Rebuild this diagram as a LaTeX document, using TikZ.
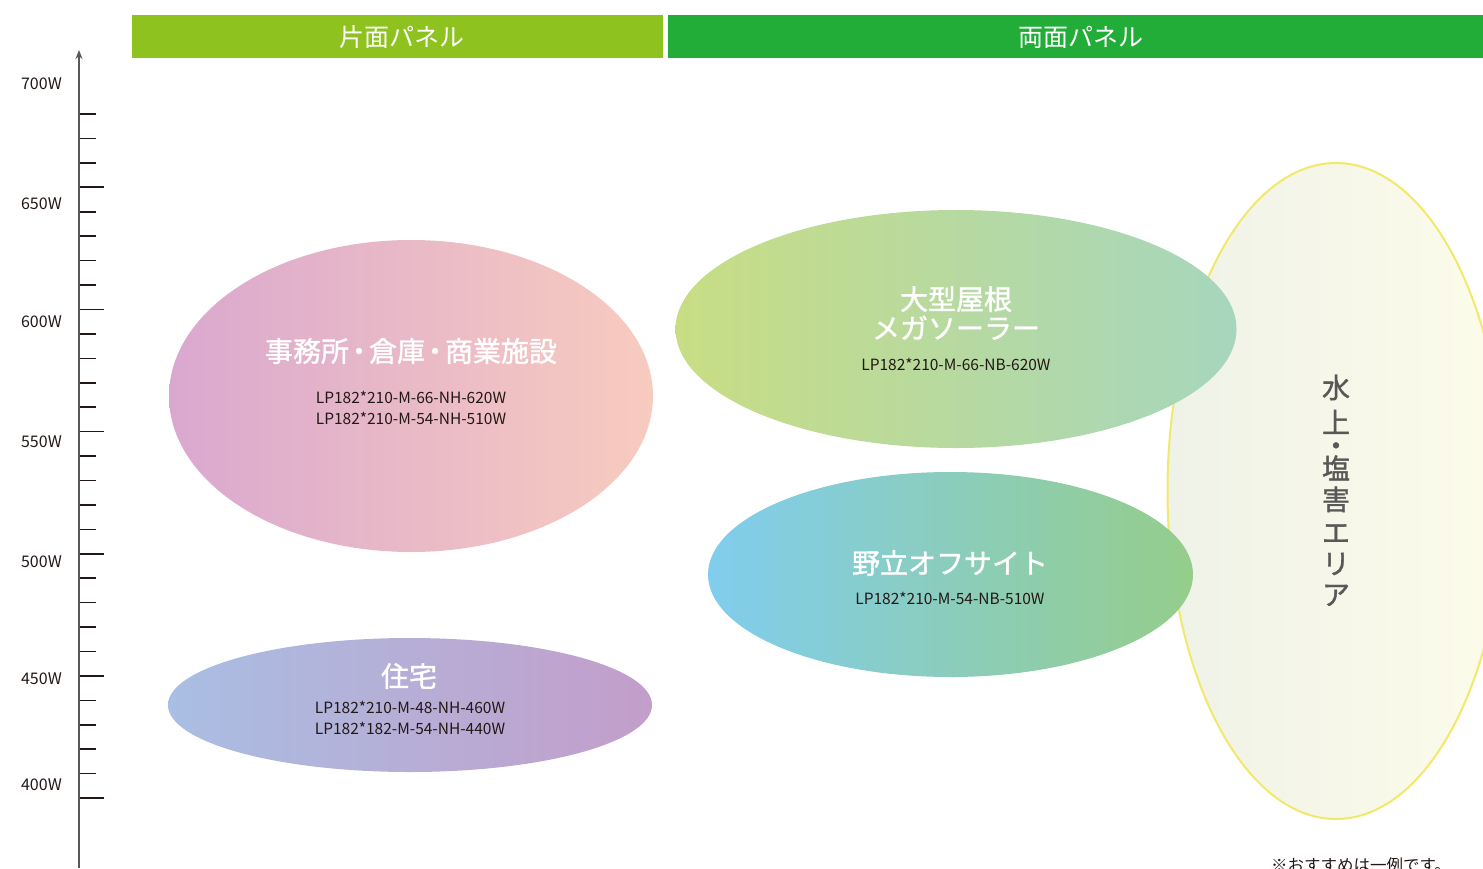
\documentclass[tikz,border=0pt]{standalone}
\usepackage{fontspec}
\setmainfont{Noto Sans CJK JP}
\newfontfamily\medfont{Noto Sans CJK JP}[FakeBold=1.2]
\usetikzlibrary{shapes.geometric,arrows.meta}
\definecolor{barA}{HTML}{8DC21F}
\definecolor{barB}{HTML}{22AC38}
\definecolor{axisgray}{HTML}{595757}
\definecolor{tickdark}{HTML}{231815}
\definecolor{txtdark}{HTML}{231815}
\definecolor{pinkL}{HTML}{DAA8CF}
\definecolor{pinkR}{HTML}{F8CBBF}
\definecolor{purL}{HTML}{A9BEE3}
\definecolor{purR}{HTML}{C39ECA}
\definecolor{grnL}{HTML}{C8DD84}
\definecolor{grnR}{HTML}{A6D6BD}
\definecolor{bluL}{HTML}{80CDEE}
\definecolor{bluR}{HTML}{95CD8B}
\definecolor{yelL}{HTML}{EFF2E8}
\definecolor{yelR}{HTML}{FDFCEA}
\definecolor{yelS}{HTML}{F2E86A}
\tikzset{
  bar/.style={inner sep=0pt, anchor=north west},
  bartext/.style={text=white, font=\fontsize{25}{28}\selectfont, inner sep=0pt},
  blob/.style={ellipse, inner sep=0pt, draw=none},
  title/.style={text=white, font=\medfont\fontsize{28}{29}\selectfont, inner sep=0pt, align=center},
  model/.style={text=txtdark, font=\fontsize{15.5}{21}\selectfont, inner sep=0pt, align=center},
  ylab/.style={text=txtdark, font=\fontsize{16}{18}\selectfont, inner sep=0pt, anchor=east},
  vchar/.style={text=axisgray, font=\medfont\fontsize{28}{30}\selectfont, inner sep=0pt, text height=20pt, text depth=0pt},
  tickline/.style={draw=tickdark, line width=1.6pt},
}
\begin{document}
\begin{tikzpicture}[x=1pt,y=-1pt]
\useasboundingbox (0,0) rectangle (1483,868);
% header bars
\node[bar, fill=barA, minimum width=531pt, minimum height=43pt] (barone) at (132,15) {};
\node[bar, fill=barB, minimum width=815pt, minimum height=43pt] (bartwo) at (668,15) {};
\node[bartext] (hone) at (402,37) {片面パネル};
\node[bartext] (htwo) at (1081,37) {両面パネル};
% axis
\coordinate (axbot) at (79,868);
\coordinate (axtop) at (79,50);
\draw[draw=axisgray, line width=1.8pt, -{Stealth[length=9pt,width=7pt]}] (axbot) -- (axtop);
\foreach \k in {0,...,28}{
  \pgfmathsetmacro{\yy}{114+\k*24.43}
  \pgfmathtruncatemacro{\m}{mod(\k,5)}
  \ifnum\m=3
    \draw[tickline] (80,\yy) -- (104,\yy);
  \else
    \draw[tickline] (80,\yy) -- (96,\yy);
  \fi
}
\node[ylab] (l700) at (62,84) {700W};
\node[ylab] (l650) at (62,204) {650W};
\node[ylab] (l600) at (62,322) {600W};
\node[ylab] (l550) at (62,442) {550W};
\node[ylab] (l500) at (62,562) {500W};
\node[ylab] (l450) at (62,679) {450W};
\node[ylab] (l400) at (62,785) {400W};
% water / salt area
\node[blob, draw=yelS, line width=2pt, left color=yelL, right color=yelR, minimum width=337pt, minimum height=656pt] (water) at (1336,491) {};
% ellipses
\node[blob, left color=pinkL, right color=pinkR, minimum width=484pt, minimum height=312pt] (office) at (411,396) {};
\node[blob, left color=purL, right color=purR, minimum width=484pt, minimum height=134pt] (house) at (410,705) {};
\node[blob, left color=grnL, right color=grnR, minimum width=561pt, minimum height=238pt] (roof) at (956,329) {};
\node[blob, left color=bluL, right color=bluR, minimum width=485pt, minimum height=205pt] (field) at (950.5,574.5) {};
% texts
\node[title] (tofc) at (411,351) {事務所{\kern-4pt}・{\kern-4pt}倉庫{\kern-4pt}・{\kern-4pt}商業施設};
\node[model] (mofc) at (411,407.5) {LP182*210-M-66-NH-620W\\LP182*210-M-54-NH-510W};
\node[title] (thouse) at (409,676) {住宅};
\node[model] (mhouse) at (410,718) {LP182*210-M-48-NH-460W\\LP182*182-M-54-NH-440W};
\node[title] (troof) at (956,313) {大型屋根\\メガソーラー};
\node[model] (mroof) at (956,364) {LP182*210-M-66-NB-620W};
\node[title] (tfield) at (950,563) {野立オフサイト};
\node[model] (mfield) at (950,598) {LP182*210-M-54-NB-510W};
\node[vchar] (v1) at (1336,388) {水};
\node[vchar] (v2) at (1336,423) {上};
\node[vchar] (v3) at (1336,446) {・};
\node[vchar] (v4) at (1336,469) {塩};
\node[vchar] (v5) at (1336,500) {害};
\node[vchar] (v6) at (1336,533) {エ};
\node[vchar] (v7) at (1336,564) {リ};
\node[vchar] (v8) at (1336,595) {ア};
\node[text=txtdark, font=\fontsize{16.5}{20}\selectfont, inner sep=0pt] (note) at (1361,865) {※おすすめは一例です。};
\end{tikzpicture}
\end{document}
